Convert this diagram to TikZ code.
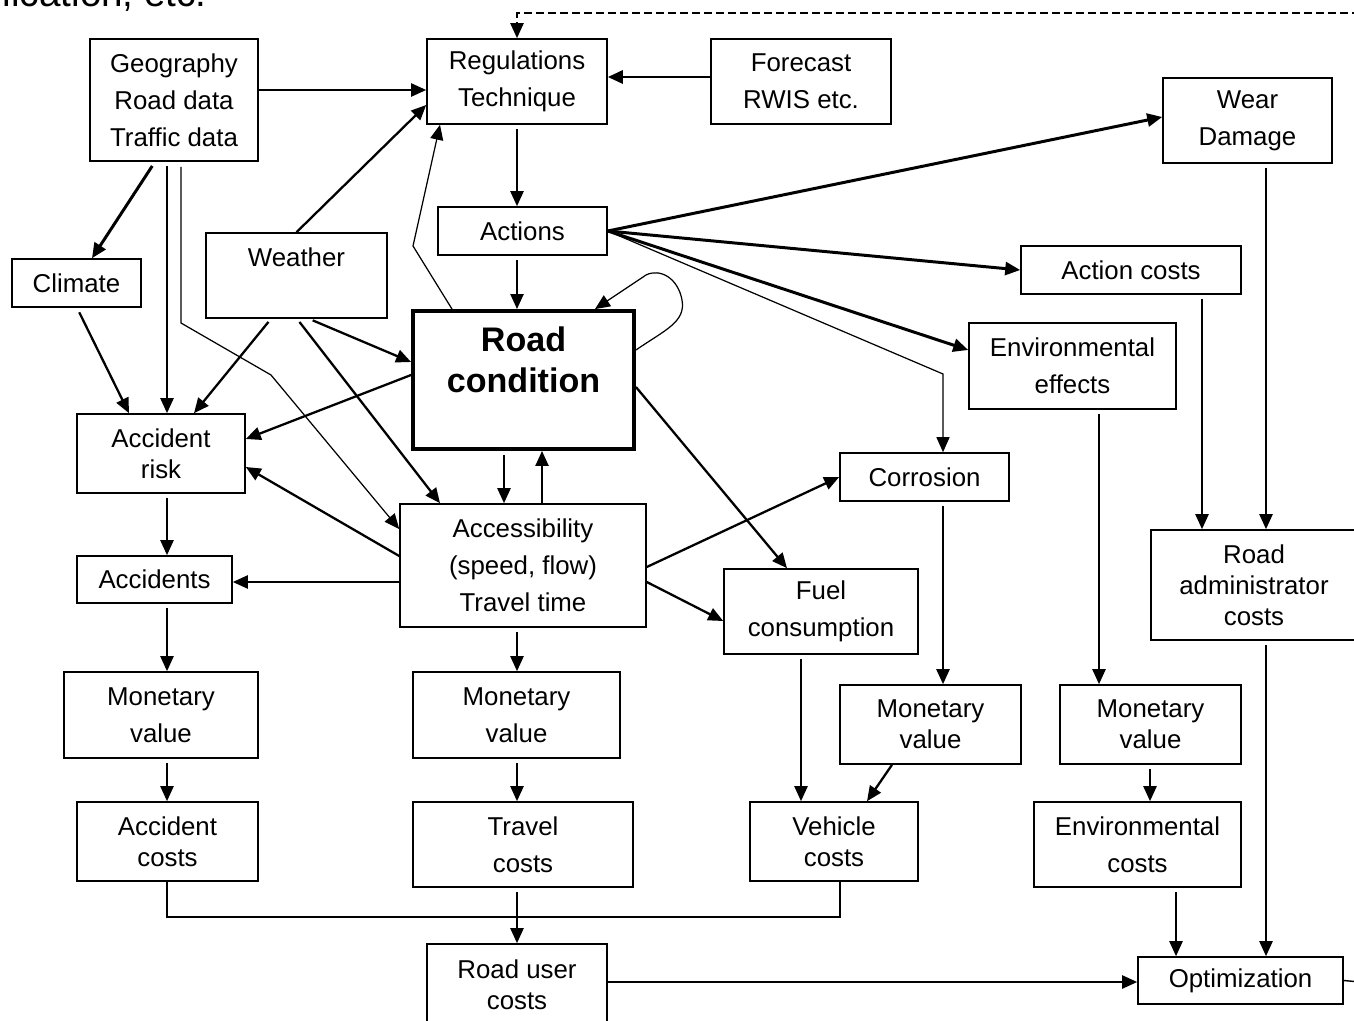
\documentclass[tikz,border=0pt]{standalone}
\usepackage{fontspec}
\setmainfont{Liberation Sans}
\usetikzlibrary{arrows.meta,calc}

\begin{document}
\begin{tikzpicture}[x=0.02cm,y=-0.02cm,
    box/.style={draw,line width=0.9pt,inner sep=0pt,align=center,font=\fontsize{14.7}{21}\selectfont},
    tightbox/.style={box,font=\fontsize{14.7}{17.6}\selectfont},
    wh/.style 2 args={minimum width=#1*0.02cm,minimum height=#2*0.02cm},
    arr/.style={line width=1.3pt,-{Triangle[length=0.3cm,width=0.26cm]}},
    thickarr/.style={arr,line width=1.7pt},
    thinarr/.style={line width=0.7pt,-{Triangle[length=0.3cm,width=0.26cm]}},
    thinline/.style={line width=0.8pt}]
  \useasboundingbox (0,0) rectangle (1354,1020);
  \clip (0,0) rectangle (1354,1020);

  \node[anchor=base east,font=\fontsize{22}{26}\selectfont] (caption) at (213,7) {lication, etc.};

  % boxes
  \node[box,wh={168}{122}] (geo) at (174,100) {Geography\\Road data\\Traffic data};
  \node[box,wh={180}{85}] (regul) at (517,81.5) {Regulations\\Technique};
  \node[box,wh={180}{85}] (forecast) at (801,81.5) {Forecast\\RWIS etc.};
  \node[box,wh={169}{85}] (wear) at (1247.5,120.5) {Wear\\Damage};
  \node[box,wh={169}{48}] (actions) at (522.5,231) {Actions};
  \node[box,wh={129}{48}] (climate) at (76.5,283) {Climate};
  \node[box,wh={181}{85}] (weather) at (296.5,275.5) {Weather\\\mbox{}};
  \node[box,wh={220}{48}] (actcost) at (1131,270) {Action costs};
  \node[box,wh={221}{138},line width=2.2pt,font=\bfseries\fontsize{19.4}{23.3}\selectfont] (road) at (523.5,380) {Road\\condition\\\mbox{}};
  \node[box,wh={207}{86}] (enveff) at (1072.5,366) {Environmental\\effects};
  \node[tightbox,wh={168}{79}] (accrisk) at (161,453.5) {Accident\\risk};
  \node[box,wh={169}{48}] (corros) at (924.5,477) {Corrosion};
  \node[box,wh={246}{123}] (access) at (523,565.5) {Accessibility\\(speed, flow)\\Travel time};
  \node[tightbox,wh={206}{110}] (roadadm) at (1254,585) {Road\\administrator\\costs};
  \node[box,wh={155}{47}] (accid) at (154.5,579.5) {Accidents};
  \node[box,wh={194}{85}] (fuel) at (821,611.5) {Fuel\\consumption};
  \node[box,wh={194}{86}] (monacc) at (161,715) {Monetary\\value};
  \node[box,wh={207}{86}] (montrav) at (516.5,715) {Monetary\\value};
  \node[tightbox,wh={181}{79}] (moncorr) at (930.5,724.5) {Monetary\\value};
  \node[tightbox,wh={181}{79}] (monenv) at (1150.5,724.5) {Monetary\\value};
  \node[tightbox,wh={181}{79}] (acccost) at (167.5,841.5) {Accident\\costs};
  \node[box,wh={220}{85}] (travcost) at (523,844.5) {Travel\\costs};
  \node[tightbox,wh={168}{79}] (vehcost) at (834,841.5) {Vehicle\\costs};
  \node[box,wh={207}{85}] (envcost) at (1137.5,844.5) {Environmental\\costs};
  \node[tightbox,wh={180}{81}] (usercost) at (517,984.5) {Road user\\costs};
  \node[box,wh={205}{47}] (optim) at (1240.5,980.5) {Optimization};

  \coordinate (feedin) at (1360,13);
  \coordinate (feedout) at (1360,982);
  \coordinate (bus) at (167,917);

  % straight down arrows
  \foreach \a/\b/\x in {regul/actions/517, actions/road/517, geo/accrisk/167,
      accrisk/accid/167, accid/monacc/167, monacc/acccost/167, road/access/504,
      access/montrav/517, montrav/travcost/517, travcost/usercost/517,
      fuel/vehcost/801, corros/moncorr/943, enveff/monenv/1099, monenv/envcost/1150,
      actcost/roadadm/1202, wear/roadadm/1266, roadadm/optim/1266, envcost/optim/1176}
    \draw[arr,shorten <=0.08cm] (\a.south -| \x,0) -- (\b.north -| \x,0);

  % inputs to regulations
  \draw[arr,dash pattern=on 0.16cm off 0.08cm] (feedin) -- (517,13) -- (regul.north);
  \draw[arr] (geo.east |- 0,90) -- (regul.west |- 0,90);
  \draw[thickarr] (forecast.west |- 0,77) -- (regul.east |- 0,77);
  \draw[arr] (weather.north) -- (regul.west |- 0,105);
  \draw[thinarr] (road.north -| 452,0) -- (413,246) -- (regul.south -| 440,0);

  % from actions
  \draw[thickarr] (actions.east) -- (wear.west |- 0,117);
  \draw[thickarr] (actions.east) -- (actcost.west);
  \draw[thickarr] (actions.east) -- (enveff.west |- 0,350);
  \draw[thinarr] (actions.east) -- (943,374) -- (corros.north -| 943,0);

  % road condition feeds itself
  \draw[thinarr] (road.east |- 0,350) .. controls (665,330) and (686,322) .. (682,300)
    .. controls (678,278) and (660,268) .. (646,275) -- (road.north -| 595,0);

  % left side
  \draw[thickarr,shorten <=0.1cm] (geo.south -| 155,0) -- (climate.north -| 92,0);
  \draw[thinarr,shorten <=0.1cm] (geo.south -| 181,0) -- (181,323) -- (271,375) -- (access.west |- 0,529);
  \draw[arr,shorten <=0.1cm] (climate.south -| 77,0) -- (accrisk.north -| 129,0);
  \draw[arr,shorten <=0.08cm] (weather.south -| 271,0) -- (accrisk.north -| 194,0);
  \draw[arr,shorten <=0.08cm] (weather.south -| 297,0) -- (access.north -| 440,0);
  \draw[arr,shorten <=0.08cm] (weather.south -| 309,0) -- (road.west |- 0,362);
  \draw[arr] (road.west |- 0,375) -- (accrisk.east |- 0,439);
  \draw[arr] (access.west |- 0,556) -- (accrisk.east |- 0,467);
  \draw[arr] (access.west |- 0,582) -- (accid.east |- 0,582);
  \draw[arr] (access.north -| 542,0) -- (road.south -| 542,0);

  % right of accessibility
  \draw[arr] (road.east |- 0,387) -- (fuel.north -| 787,0);
  \draw[arr] (access.east |- 0,567) -- (corros.west);
  \draw[arr] (access.east |- 0,582) -- (fuel.west |- 0,621);
  \draw[arr] (moncorr.south -| 892,0) -- (vehcost.north -| 867,0);

  % costs
  \draw[thinline] (acccost.south -| 167,0) -- (bus) -- (840,917) -- (vehcost.south -| 840,0);
  \draw[arr] (usercost.east |- 0,982) -- (optim.west |- 0,982);
  \draw[thinline] (optim.east) -- (feedout);
\end{tikzpicture}
\end{document}
